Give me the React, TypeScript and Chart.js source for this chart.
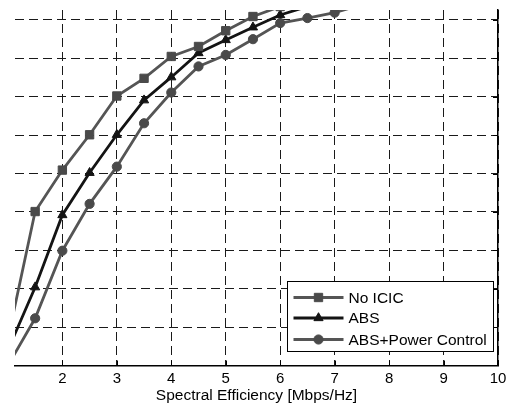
import React, { useEffect, useRef } from 'react';
import { Chart, registerables } from 'chart.js';
import { drawPoint } from 'chart.js/helpers';

Chart.register(...registerables);

const xValues = [1, 1.5, 2, 2.5, 3, 3.5, 4, 4.5, 5, 5.5, 6, 6.5, 7, 7.5, 8, 8.5, 9, 9.5, 10];
const noIcic = [0.07, 0.401, 0.509, 0.601, 0.702, 0.748, 0.805, 0.831, 0.872, 0.909, 0.935, 0.952, 0.965, 0.975, 0.983, 0.989, 0.993, 0.996, 0.998];
const absVals = [0.04, 0.204, 0.392, 0.502, 0.601, 0.691, 0.751, 0.814, 0.848, 0.881, 0.913, 0.935, 0.952, 0.965, 0.976, 0.984, 0.99, 0.994, 0.997];
const absPc = [0.0, 0.123, 0.299, 0.421, 0.518, 0.631, 0.711, 0.779, 0.809, 0.85, 0.892, 0.905, 0.919, 0.94, 0.955, 0.968, 0.978, 0.986, 0.992];
const seriesLabels = ['No ICIC', 'ABS', 'ABS+Power Control'];
const xTickValues = [2, 3, 4, 5, 6, 7, 8, 9, 10];
const yTickValues = [0.1, 0.2, 0.3, 0.4, 0.5, 0.6, 0.7, 0.8, 0.9];
const xTitle = 'Spectral Efficiency [Mbps/Hz]';

const FONT = "'Liberation Sans', Arial, Helvetica, sans-serif";

const styles = [
  { line: '#555555', fill: '#4a4a4a', pointStyle: 'rect', radius: 5.9 },
  { line: '#141414', fill: '#141414', pointStyle: 'triangle', radius: 5.3 },
  { line: '#555555', fill: '#4a4a4a', pointStyle: 'circle', radius: 4.6 },
];

const inwardTicks = {
  id: 'inwardTicks',
  afterDraw(chart: any) {
    const { ctx, chartArea: a, scales } = chart;
    const x = scales.x;
    const y = scales.y;
    ctx.save();
    ctx.strokeStyle = '#000';
    ctx.lineWidth = 1;
    ctx.setLineDash([]);
    ctx.beginPath();
    xTickValues.forEach((v) => {
      const px = Math.round(x.getPixelForValue(v)) + 0.5;
      ctx.moveTo(px, a.bottom);
      ctx.lineTo(px, a.bottom - 5);
    });
    yTickValues.forEach((v) => {
      const py = Math.round(y.getPixelForValue(v)) + 0.5;
      ctx.moveTo(a.right, py);
      ctx.lineTo(a.right - 5, py);
    });
    ctx.stroke();
    ctx.restore();
  },
};

const boxLegend = {
  id: 'boxLegend',
  afterDraw(chart: any) {
    const { ctx, chartArea: a } = chart;
    const boxW = 206;
    const boxH = 70;
    const bx = Math.round(a.right - 5 - boxW) + 0.5;
    const by = Math.round(a.bottom - 14.5 - boxH) + 0.5;
    ctx.save();
    ctx.setLineDash([]);
    ctx.fillStyle = '#fff';
    ctx.fillRect(bx, by, boxW, boxH);
    ctx.strokeStyle = '#000';
    ctx.lineWidth = 1;
    ctx.strokeRect(bx, by, boxW, boxH);
    const rows = [16, 36.5, 58];
    chart.data.datasets.forEach((ds: any, i: number) => {
      const yy = by + rows[i];
      const st = styles[i];
      ctx.strokeStyle = st.line;
      ctx.lineWidth = 2.8;
      ctx.beginPath();
      ctx.moveTo(bx + 6, yy);
      ctx.lineTo(bx + 56, yy);
      ctx.stroke();
      ctx.fillStyle = st.fill;
      ctx.strokeStyle = st.fill;
      ctx.lineWidth = 1;
      drawPoint(ctx, { pointStyle: st.pointStyle, radius: st.radius, rotation: 0, borderWidth: 1 } as any, bx + 31, yy);
      ctx.fillStyle = '#000';
      ctx.font = `15.5px ${FONT}`;
      ctx.textBaseline = 'middle';
      ctx.textAlign = 'left';
      ctx.fillText(ds.label, bx + 61, yy + 1);
    });
    ctx.restore();
  },
};

export default function App() {
  const ref = useRef<HTMLCanvasElement | null>(null);

  useEffect(() => {
    if (!ref.current) return;
    Chart.defaults.font.family = FONT;
    const series = [noIcic, absVals, absPc];
    const chart = new Chart(ref.current, {
      type: 'line',
      data: {
        datasets: series.map((vals, i) => ({
          label: seriesLabels[i],
          data: xValues.map((xv, j) => ({ x: xv, y: vals[j] })),
          borderColor: styles[i].line,
          backgroundColor: styles[i].fill,
          pointBackgroundColor: styles[i].fill,
          pointBorderColor: styles[i].fill,
          pointBorderWidth: 1,
          pointStyle: styles[i].pointStyle as any,
          pointRadius: styles[i].radius,
          borderWidth: 2.8,
          tension: 0,
          fill: false,
          clip: 0,
        })),
      },
      options: {
        responsive: false,
        animation: false,
        devicePixelRatio: 1,
        layout: { padding: { left: 15, right: 13, top: 10, bottom: 0 } },
        plugins: {
          legend: { display: false },
          tooltip: { enabled: false },
        },
        scales: {
          x: {
            type: 'linear',
            min: 1.13,
            max: 10,
            afterBuildTicks: (s: any) => {
              s.ticks = xTickValues.map((v) => ({ value: v }));
            },
            afterFit: (s: any) => {
              s.height = 46.5;
            },
            grid: { color: '#1a1a1a', lineWidth: 1, drawTicks: false },
            border: { display: true, color: '#000', width: 1.5, dash: [9, 5] },
            ticks: {
              color: '#000',
              font: { size: 15 },
              padding: 4,
              maxRotation: 0,
              autoSkip: false,
            },
            title: {
              display: true,
              text: xTitle,
              color: '#000',
              font: { size: 15.5 },
              padding: { top: 0, bottom: 6.5 },
            },
          },
          y: {
            type: 'linear',
            position: 'right',
            min: 0,
            max: 0.926,
            afterBuildTicks: (s: any) => {
              s.ticks = yTickValues.map((v) => ({ value: v }));
            },
            afterFit: (s: any) => {
              s.width = 0;
            },
            grid: { color: '#1a1a1a', lineWidth: 1, drawTicks: false },
            border: { display: true, color: '#000', width: 1.5, dash: [9, 5] },
            ticks: { display: false },
          },
        },
      },
      plugins: [inwardTicks, boxLegend],
    });
    return () => chart.destroy();
  }, []);

  return (
    <div style={{ position: 'fixed', left: 0, top: 0, width: 511, height: 412, background: '#fff' }}>
      <canvas ref={ref} width={511} height={412} style={{ display: 'block' }} />
    </div>
  );
}
